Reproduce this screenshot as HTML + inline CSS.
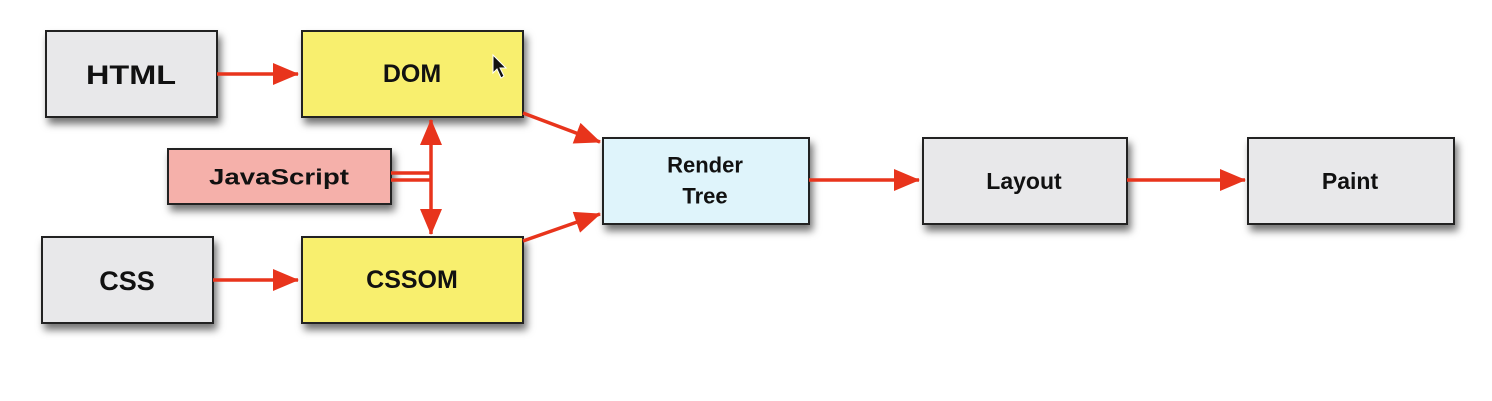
<!DOCTYPE html>
<html><head><meta charset="utf-8"><style>
html,body{margin:0;padding:0;background:#fff;}
svg{display:block}
text{font-family:"Liberation Sans",Arial,sans-serif;font-weight:bold;fill:#111;text-anchor:middle;dominant-baseline:central}
</style></head><body>
<svg width="1492" height="401" viewBox="0 0 1492 401" xmlns="http://www.w3.org/2000/svg">
<defs>
<filter id="sh" x="-10%" y="-10%" width="130%" height="150%"><feDropShadow dx="3" dy="6" stdDeviation="4" flood-color="#000" flood-opacity="0.55"/></filter>
<marker id="a2" viewBox="0 0 26 22" refX="25" refY="11" markerWidth="28" markerHeight="22" orient="auto-start-reverse" markerUnits="userSpaceOnUse"><path d="M0,0 L26,11 L0,22 z" fill="#e8341c"/></marker>
</defs>
<g stroke="#222" stroke-width="2" filter="url(#sh)">
<rect x="46" y="31" width="171" height="86" fill="#e8e8ea"/>
<rect x="302" y="31" width="221" height="86" fill="#f8ef6e"/>
<rect x="168" y="149" width="223" height="55" fill="#f5b0aa"/>
<rect x="42" y="237" width="171" height="86" fill="#e8e8ea"/>
<rect x="302" y="237" width="221" height="86" fill="#f8ef6e"/>
<rect x="603" y="138" width="206" height="86" fill="#dff4fb"/>
<rect x="923" y="138" width="204" height="86" fill="#e8e8ea"/>
<rect x="1248" y="138" width="206" height="86" fill="#e8e8ea"/>
</g>
<g stroke="#e8341c" stroke-width="3.5" fill="none">
<line x1="217" y1="74" x2="298" y2="74" marker-end="url(#a2)"/>
<line x1="213" y1="280" x2="298" y2="280" marker-end="url(#a2)"/>
<line x1="523" y1="113" x2="600" y2="142" marker-end="url(#a2)"/>
<line x1="523" y1="241" x2="600" y2="214" marker-end="url(#a2)"/>
<line x1="809" y1="180" x2="919" y2="180" marker-end="url(#a2)"/>
<line x1="1127" y1="180" x2="1245" y2="180" marker-end="url(#a2)"/>
<line x1="431" y1="120" x2="431" y2="234" marker-start="url(#a2)" marker-end="url(#a2)"/>
<line x1="391" y1="173" x2="431" y2="173"/>
<line x1="391" y1="180" x2="431" y2="180"/>
</g>
<text x="131" y="75" font-size="27" textLength="90" lengthAdjust="spacingAndGlyphs">HTML</text>
<text x="412" y="74" font-size="25">DOM</text>
<text x="279" y="177" font-size="22" textLength="140" lengthAdjust="spacingAndGlyphs">JavaScript</text>
<text x="127" y="281" font-size="27">CSS</text>
<text x="412" y="280" font-size="25">CSSOM</text>
<text x="705" y="165" font-size="22">Render</text>
<text x="705" y="196" font-size="22">Tree</text>
<text x="1024" y="181" font-size="23">Layout</text>
<text x="1350" y="181" font-size="23">Paint</text>
<path d="M493,55 L493,73 L497,69 L501,78 L504,76 L500,68 L506,68 z" fill="#111" stroke="#fff" stroke-width="1"/>
</svg>
</body></html>
